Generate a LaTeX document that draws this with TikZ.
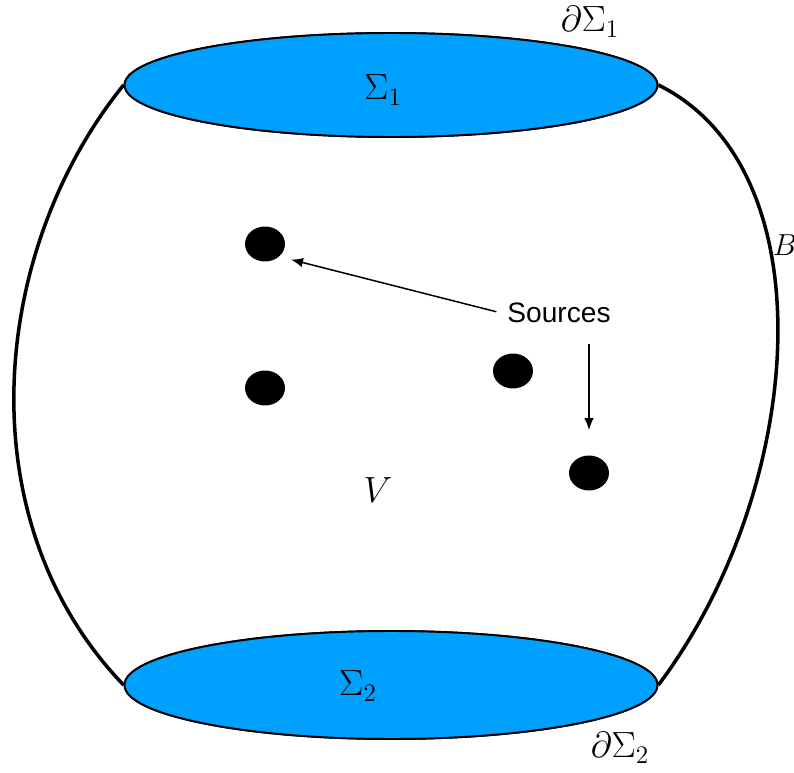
\documentclass[tikz,border=0pt]{standalone}
\usepackage{amsmath,amssymb}
\usepackage{fontspec}
\newfontfamily\srcfont{Liberation Sans}
\usetikzlibrary{shapes,arrows,arrows.meta,positioning,calc}
\definecolor{capblue}{RGB}{0,160,255}

\begin{document}
\begin{tikzpicture}[
            x=0.02cm, y=-0.02cm,
            lid/.style={draw, ellipse, fill=capblue, line width=1.1pt, minimum width=10.66cm},
            source/.style={ellipse, fill=black, inner sep=0pt, minimum width=0.8cm, minimum height=0.7cm},
            wall/.style={line width=2pt},
            lbl/.style={font=\fontsize{20}{24}\selectfont},
            >={Latex[length=2.4mm, width=1.9mm]}
        ]
            \useasboundingbox (0,0) rectangle (794,773);
            \node[lid, minimum height=2.08cm] (top) at (391,85) {};
            \node[lid, minimum height=2.16cm] (bot) at (391,685) {};
            
            \draw[wall] (top.west) .. controls (-10,250) and (-35,520) .. (bot.west);
            \draw[wall] (top.east) .. controls (830,170) and (805,490) .. (bot.east);
            
            \node[lid, minimum height=2.08cm] at (top) {};
            \node[lid, minimum height=2.16cm] at (bot) {};
            \node[lbl] (s1) at (383,90) {$\Sigma_1$};
            \node[lbl] (s2) at (358,686) {$\Sigma_2$};
            \node[lbl] (dtop) at (590,22) {$\partial\Sigma_1$};
            \node[lbl] (dbot) at (620,748) {$\partial\Sigma_2$};
            \node[font=\fontsize{16}{19}\selectfont] (b) at (785,245) {$B$};
            \node[font=\fontsize{21}{25}\selectfont] (v) at (378,490) {$V$};
            
            \node[source] (d1) at (265,244) {};
            \node[source] (d2) at (265,388) {};
            \node[source] (d3) at (513,371) {};
            \node[source] (d4) at (589,473) {};
            
            \node[font=\srcfont\fontsize{16}{19}\selectfont] (src) at (559,313) {Sources};
            
            \draw[->, line width=0.85pt, shorten <=0.1cm, shorten >=0.24cm] (src.west) -- (d1.south east);
            \draw[->, line width=0.85pt, shorten <=0.3cm, shorten >=0.5cm] (src.south -| d4) -- (d4);
        \end{tikzpicture}
\end{document}
